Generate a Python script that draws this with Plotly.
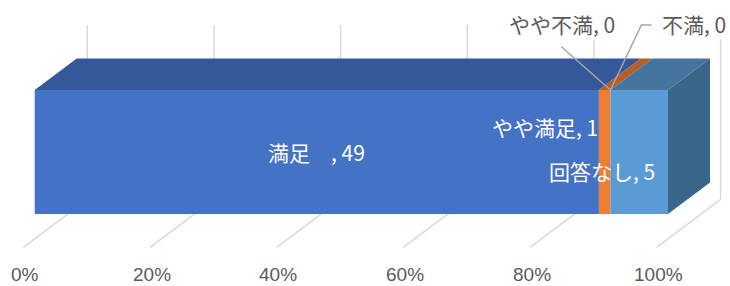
import plotly.graph_objects as go

# ---- data ----
categories = ["満足", "やや満足", "やや不満", "不満", "回答なし"]
values = [49, 1, 0, 0, 5]
label_texts = ["満足　, 49", "やや満足, 1", "やや不満, 0", "不満, 0", "回答なし, 5"]
tick_vals = [0, 20, 40, 60, 80, 100]
tick_labels = ["0%", "20%", "40%", "60%", "80%", "100%"]

# ---- style ----
front_colors = ["#4472C4", "#ED7D31", "#A5A5A5", "#FFC000", "#5B9BD5"]
top_colors = ["#34589A", "#B65F22", "#7F7F7F", "#C49400", "#45759F"]
side_colors = ["#2B4A80", "#9A4F1C", "#6A6A6A", "#A37B00", "#3A6689"]
W, H = 730, 286
px_per_pct = 6.333
x0_px = 34.7
xr = [(0 - x0_px) / px_per_pct, (W - x0_px) / px_per_pct]

bar_top, bar_bot = 90.0, 214.0
dx_bar = 42.0 / px_per_pct
dy_bar = -31.5
floor_front_off = -11.4 / px_per_pct
floor_back_off = 52.6 / px_per_pct
floor_front_y, floor_back_y, wall_top_y = 247.3, 199.3, 25.0
grid_col = "#D9D9D9"
font_cjk = "Noto Sans CJK JP"

total = sum(values)
pcts = [v / total * 100 for v in values]
cum = [0.0]
for p in pcts:
    cum.append(cum[-1] + p)

fig = go.Figure()

# front faces (stacked horizontal bars)
for i, (c, p) in enumerate(zip(categories, pcts)):
    fig.add_trace(go.Bar(
        x=[p], y=[(bar_top + bar_bot) / 2], base=[cum[i]], orientation="h",
        width=bar_bot - bar_top, marker=dict(color=front_colors[i], line=dict(width=0)),
        name=c, showlegend=False, hoverinfo="skip"))

# top faces
for i, c in enumerate(categories):
    a, b = cum[i], cum[i + 1]
    if b - a <= 0:
        continue
    fig.add_trace(go.Scatter(
        x=[a, b, b + dx_bar, a + dx_bar, a], y=[bar_top, bar_top, bar_top + dy_bar, bar_top + dy_bar, bar_top],
        fill="toself", fillcolor=top_colors[i], mode="lines", line=dict(width=0, color=top_colors[i]),
        showlegend=False, hoverinfo="skip"))

# right side face (last non-zero segment)
last = max(i for i, v in enumerate(values) if v > 0)
e = cum[-1]
fig.add_trace(go.Scatter(
    x=[e, e + dx_bar, e + dx_bar, e, e],
    y=[bar_top, bar_top + dy_bar, bar_bot + dy_bar, bar_bot, bar_top],
    fill="toself", fillcolor=side_colors[last], mode="lines", line=dict(width=0, color=side_colors[last]),
    showlegend=False, hoverinfo="skip"))

# gridlines (back wall + floor)
shapes = []
for t in tick_vals:
    xb = t + floor_back_off
    xf = t + floor_front_off
    shapes.append(dict(type="line", layer="below", x0=xb, x1=xb, y0=wall_top_y, y1=floor_back_y,
                       line=dict(color=grid_col, width=1.5)))
    shapes.append(dict(type="line", layer="below", x0=xb, x1=xf, y0=floor_back_y, y1=floor_front_y,
                       line=dict(color=grid_col, width=1.5)))
fig.update_layout(shapes=shapes)

annotations = []
for t, lab in zip(tick_vals, tick_labels):
    annotations.append(dict(x=t + floor_front_off + 0.25, y=H - 0.5, text=lab, showarrow=False,
                            xanchor="center", yanchor="bottom", borderpad=0,
                            font=dict(family="Liberation Sans", size=19, color="#595959")))

pp = px_per_pct
# 満足 (inside, centered)
annotations.append(dict(x=(cum[0] + cum[1]) / 2, y=152, text=label_texts[0], showarrow=False,
                        xanchor="center", yanchor="middle",
                        font=dict(family=font_cjk, size=21, color="white")))
# やや満足
annotations.append(dict(x=cum[1] + 0.1, y=127, text=label_texts[1], showarrow=False,
                        xanchor="right", yanchor="middle",
                        font=dict(family=font_cjk, size=21, color="white")))
# 回答なし
annotations.append(dict(x=cum[5] - 11.3 / pp, y=171, text=label_texts[4], showarrow=False,
                        xanchor="right", yanchor="middle",
                        font=dict(family=font_cjk, size=21, color="white")))
# やや不満 (outside, gray with white box)
annotations.append(dict(x=cum[3] - 48.2 / pp, y=23.5, text=label_texts[2], showarrow=False,
                        xanchor="center", yanchor="middle", bgcolor="white", borderpad=0,
                        font=dict(family=font_cjk, size=21, color="#595959")))
# 不満
annotations.append(dict(x=cum[4] + 83.5 / pp, y=23.5, text=label_texts[3], showarrow=False,
                        xanchor="center", yanchor="middle", bgcolor="white", borderpad=0,
                        font=dict(family=font_cjk, size=21, color="#595959")))
fig.update_layout(annotations=annotations)

# leader lines
lead_col = "#A6A6A6"
fig.add_trace(go.Scatter(x=[cum[3] - 49 / pp, cum[3]], y=[46.7, bar_top], mode="lines",
                         line=dict(color=lead_col, width=1.5), showlegend=False, hoverinfo="skip"))
fig.add_trace(go.Scatter(x=[cum[4] + 41 / pp, cum[4] + 31 / pp, cum[4]], y=[25, 25, bar_top], mode="lines",
                         line=dict(color=lead_col, width=1.5), showlegend=False, hoverinfo="skip"))

fig.update_layout(
    width=W, height=H, margin=dict(l=0, r=0, t=0, b=0),
    paper_bgcolor="white", plot_bgcolor="white", barmode="overlay",
    xaxis=dict(range=xr, visible=False, fixedrange=True),
    yaxis=dict(range=[H, 0], visible=False, fixedrange=True),
)
fig.write_html("out.html", config={"displayModeBar": False},
               post_script="document.body.style.margin='0';document.body.style.overflow='hidden';")
